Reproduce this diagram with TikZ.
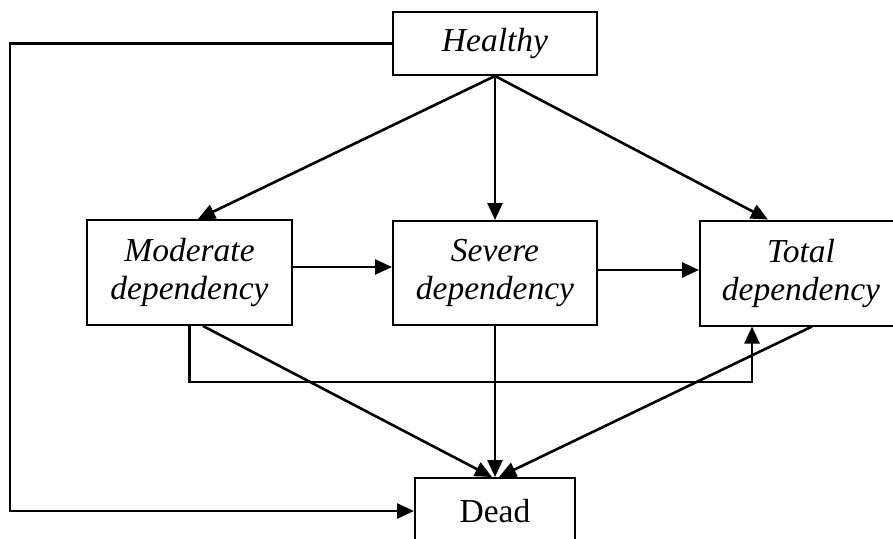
\documentclass[tikz,border=0pt]{standalone}
\usepackage{fontspec}
\setmainfont{Liberation Serif}
\usetikzlibrary{arrows.meta}
\begin{document}
\begin{tikzpicture}[x=1pt,y=-1pt,
  box/.style={draw,line width=2pt,inner sep=0pt,align=center,
    font=\fontsize{33.5}{38}\selectfont\itshape},
  arr/.style={line width=2.6pt,-{Triangle[length=17pt,width=15pt]}},
  ln/.style={line width=2.6pt}]
\useasboundingbox (0,0) rectangle (893,538);
\clip (0,0) rectangle (893,538);
\fill[white] (0,0) rectangle (893,538);
\node[box,minimum width=204pt,minimum height=63pt] (healthy) at (495,43.5) {Healthy};
\node[box,minimum width=205pt,minimum height=105pt] (moderate) at (189.5,272.5) {Moderate\\dependency};
\node[box,minimum width=204pt,minimum height=104pt] (severe) at (495,273) {Severe\\dependency};
\node[box,minimum width=202pt,minimum height=105pt] (total) at (801,273) {Total\\dependency};
\node[box,font=\fontsize{33.5}{38}\selectfont,minimum width=160pt,minimum height=66pt] (dead) at (495,511) {Dead};
\coordinate (ltop) at (10,43.5);
\coordinate (lbot) at (10,511);
\coordinate (hb) at (189.5,382);
% from Healthy
\draw[arr] (healthy.south) -- ([xshift=8.5pt]moderate.north);
\draw[arr] (healthy.south) -- (severe.north);
\draw[arr] (healthy.south) -- ([xshift=-33pt]total.north);
\draw[arr] (healthy.west) -- (ltop) -- (lbot) -- (dead.west);
% horizontal
\draw[arr] ([yshift=5.5pt]moderate.east) -- ([yshift=5.5pt]moderate.east -| severe.west);
\draw[arr] ([yshift=3pt]severe.east) -- ([yshift=3pt]severe.east -| total.west);
% Moderate to Total below
\draw[arr] (moderate.south) -- (hb) -| ([xshift=-49pt]total.south);
% to Dead
\draw[arr] ([xshift=13.5pt]moderate.south) -- ([xshift=-3pt]dead.north);
\draw[arr] (severe.south) -- (dead.north);
\draw[arr] ([xshift=11pt]total.south) -- ([xshift=4pt]dead.north);
\end{tikzpicture}
\end{document}
